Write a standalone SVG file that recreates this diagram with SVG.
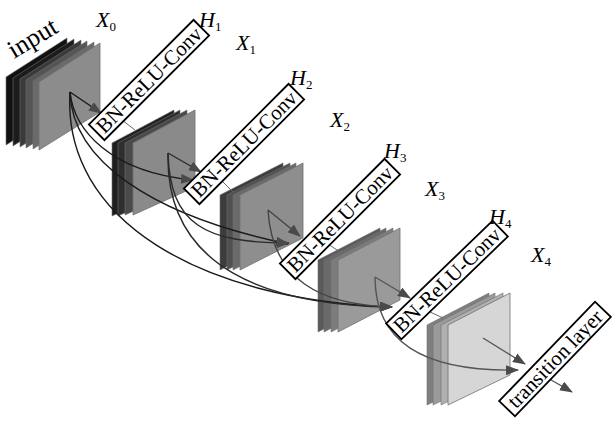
<svg xmlns="http://www.w3.org/2000/svg" width="612" height="421" viewBox="0 0 612 421">
<defs>
<style>
.pl{stroke:#6f6f6f;stroke-width:0.6}
.fr{stroke:#707070;stroke-width:0.8}
.cn{fill:none;stroke-width:1.4}
.k0{stroke:#1a1a1a}
.k1{stroke:#2a2a2a}
.k2{stroke:#444}
.k3{stroke:#555}
.k4{stroke:#555}
.tie{stroke:#666;stroke-width:1;fill:none}
.box{fill:#fff;stroke:#000;stroke-width:1.8}
.bt{font-family:"Liberation Serif",serif;font-size:21px;fill:#000;text-anchor:middle}
.var{font-family:"Liberation Serif",serif;font-size:22px;font-style:italic;fill:#000}
.sub{font-size:13px;font-style:normal}
.inp{font-family:"Liberation Serif",serif;font-size:26px;fill:#000}
</style>
<marker id="ah" viewBox="0 0 13 10" refX="12" refY="5" markerWidth="13" markerHeight="10" markerUnits="userSpaceOnUse" orient="auto">
<path d="M0,0 L13,5 L0,10 z" fill="#4a4a4a"/>
</marker>
</defs>
<rect width="612" height="421" fill="#fff"/>

<g id="block0">
<polygon class="pl" fill="#111" points="6,77 67,38 67,107 6,145"/>
<polygon class="pl" fill="#1c1c1c" points="13,78 74,39 74,108 13,146"/>
<polygon class="pl" fill="#3a3a3a" points="20,79 81,40 81,109 20,147"/>
<polygon class="pl" fill="#555" points="26,80 87,41 87,110 26,148"/>
<polygon class="pl" fill="#6a6a6a" points="33,81 94,42 94,111 33,149"/>
<polygon class="fr" fill="#8c8c8c" points="39,82 100,43 100,112 39,150"/>
</g>

<g id="block1">
<polygon class="pl" fill="#1e1e1e" points="112,143 174,110 174,188 112,216"/>
<polygon class="pl" fill="#2e2e2e" points="118,143 180,110 180,188 118,216"/>
<polygon class="pl" fill="#4a4a4a" points="125,143 187,110 187,187 125,215"/>
<polygon class="fr" fill="#8a8a8a" points="133,143 195,110 195,187 133,215"/>
</g>

<g id="block2">
<polygon class="pl" fill="#3c3c3c" points="220,195 283,163 283,238 220,270"/>
<polygon class="pl" fill="#505050" points="227,195 290,163 290,238 227,270"/>
<polygon class="pl" fill="#6a6a6a" points="233,195 296,163 296,238 233,270"/>
<polygon class="fr" fill="#8e8e8e" points="240,195 303,163 303,238 240,270"/>
</g>

<g id="block3">
<polygon class="pl" fill="#5a5a5a" points="318,260 380,228 380,300 318,332"/>
<polygon class="pl" fill="#6a6a6a" points="324,260 386,228 386,300 324,332"/>
<polygon class="pl" fill="#7c7c7c" points="331,260 393,228 393,300 331,332"/>
<polygon class="fr" fill="#9a9a9a" points="338,260 400,228 400,300 338,332"/>
</g>

<g id="block4">
<polygon class="pl" fill="#7f7f7f" points="427,325 489,293 489,375 427,405"/>
<polygon class="pl" fill="#9a9a9a" points="433,325 495,293 495,375 433,405"/>
<polygon class="pl" fill="#b0b0b0" points="441,325 503,293 503,375 441,405"/>
<polygon class="fr" fill="#d6d6d6" points="448,325 510,293 510,375 448,405"/>
</g>

<g id="connectors">
<line class="tie" x1="118" y1="117" x2="135" y2="130"/>
<line class="tie" x1="213" y1="172" x2="233" y2="192"/>
<line class="tie" x1="322" y1="240" x2="340" y2="252"/>
<line class="tie" x1="428" y1="311" x2="443" y2="318"/>

<path class="cn k0" d="M70,92 L101,113" marker-end="url(#ah)"/>
<path class="cn k0" d="M70,92 C74,130 110,172 193,180" marker-end="url(#ah)"/>
<path class="cn k0" d="M70,92 C72,160 150,215 288,244" marker-end="url(#ah)"/>
<path class="cn k0" d="M70,92 C62,220 200,300 392,307" marker-end="url(#ah)"/>

<path class="cn k1" d="M168,153 L201,172" marker-end="url(#ah)"/>
<path class="cn k1" d="M168,153 C170,225 205,243 289,243" marker-end="url(#ah)"/>
<path class="cn k1" d="M168,153 C165,270 270,305 392,307" marker-end="url(#ah)"/>

<path class="cn k2" d="M268,210 L300,236" marker-end="url(#ah)"/>
<path class="cn k2" d="M268,210 C272,280 320,305 392,307" marker-end="url(#ah)"/>

<path class="cn k3" d="M375,277 L410,298" marker-end="url(#ah)"/>
<path class="cn k3" d="M375,277 C375,340 420,372 518,370" marker-end="url(#ah)"/>

<path class="cn k4" d="M483,338 L525,364" marker-end="url(#ah)"/>
<path class="cn k4" d="M546,377 L572,392" marker-end="url(#ah)"/>
</g>

<g id="box1" transform="translate(149,80) rotate(-45)">
<rect class="box" x="-74" y="-11" width="148" height="22"/>
<text class="bt" x="0" y="7">BN-ReLU-Conv</text>
</g>
<g id="box2" transform="translate(244,144) rotate(-45)">
<rect class="box" x="-74" y="-11" width="148" height="22"/>
<text class="bt" x="0" y="7">BN-ReLU-Conv</text>
</g>
<g id="box3" transform="translate(340,219) rotate(-45)">
<rect class="box" x="-74" y="-11" width="148" height="22"/>
<text class="bt" x="0" y="7">BN-ReLU-Conv</text>
</g>
<g id="box4" transform="translate(447,280) rotate(-44)">
<rect class="box" x="-74" y="-11" width="148" height="22"/>
<text class="bt" x="0" y="7">BN-ReLU-Conv</text>
</g>
<g id="transition" transform="translate(555,359) rotate(-46)">
<rect class="box" x="-69" y="-11" width="138" height="22"/>
<text class="bt" x="0" y="7">transition layer</text>
</g>

<g id="labels">
<text class="inp" transform="translate(14,59) rotate(-31)">input</text>
<text class="var" x="96" y="27">X<tspan class="sub" dy="4">0</tspan></text>
<text class="var" x="199" y="27">H<tspan class="sub" dy="4">1</tspan></text>
<text class="var" x="236" y="50">X<tspan class="sub" dy="4">1</tspan></text>
<text class="var" x="290" y="85">H<tspan class="sub" dy="4">2</tspan></text>
<text class="var" x="330" y="127">X<tspan class="sub" dy="4">2</tspan></text>
<text class="var" x="384" y="158">H<tspan class="sub" dy="4">3</tspan></text>
<text class="var" x="425" y="196">X<tspan class="sub" dy="4">3</tspan></text>
<text class="var" x="489" y="224">H<tspan class="sub" dy="4">4</tspan></text>
<text class="var" x="531" y="262">X<tspan class="sub" dy="4">4</tspan></text>
</g>
</svg>
